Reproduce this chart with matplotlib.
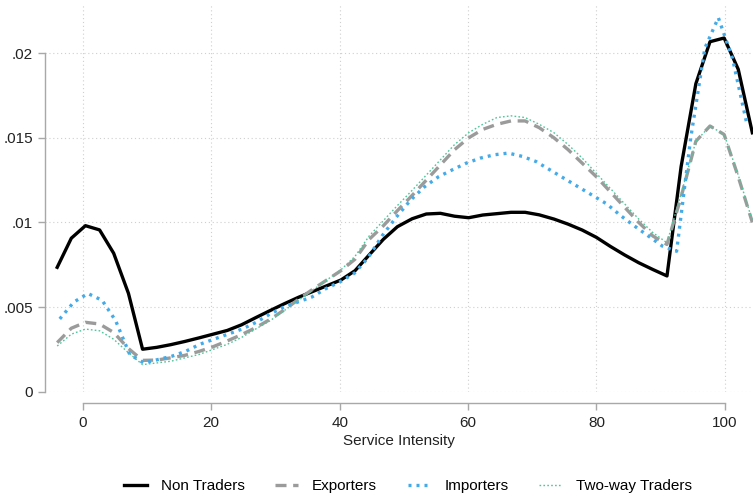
import matplotlib
matplotlib.use("Agg")
import matplotlib.pyplot as plt

plt.rcParams['font.family'] = ['Liberation Sans', 'DejaVu Sans']

# kernel density evaluation points (50 points per group)
x_grid = [-4.0, -1.8, 0.4, 2.6, 4.8, 7.1, 9.3, 11.5, 13.7, 15.9,
          18.1, 20.3, 22.5, 24.7, 26.9, 29.2, 31.4, 33.6, 35.8, 38.0,
          40.2, 42.4, 44.6, 46.8, 49.0, 51.3, 53.5, 55.7, 57.9, 60.1,
          62.3, 64.5, 66.7, 68.9, 71.1, 73.4, 75.6, 77.8, 80.0, 82.2,
          84.4, 86.6, 88.8, 91.0, 93.2, 95.5, 97.7, 99.9, 102.1, 104.3]

x_imp = [-3.6, -1.4, 0.8, 3.0, 5.1, 7.3, 9.5, 11.7, 13.9, 16.1,
         18.2, 20.4, 22.6, 24.8, 27.0, 29.2, 31.3, 33.5, 35.7, 37.9,
         40.1, 42.3, 44.4, 46.6, 48.8, 51.0, 53.2, 55.4, 57.5, 59.7,
         61.9, 64.1, 66.3, 68.5, 70.6, 72.8, 75.0, 77.2, 79.4, 81.6,
         83.8, 85.9, 88.1, 90.3, 92.5, 94.7, 96.9, 99.0, 101.2, 103.4]

non_traders = [0.00735, 0.00907, 0.00981, 0.00956, 0.00818, 0.00581, 0.00251, 0.00262, 0.00278, 0.00297,
               0.00318, 0.00340, 0.00362, 0.00395, 0.00437, 0.00480, 0.00520, 0.00558, 0.00592, 0.00626,
               0.00660, 0.00715, 0.00808, 0.00900, 0.00975, 0.01022, 0.01050, 0.01054, 0.01037, 0.01028,
               0.01044, 0.01052, 0.01060, 0.01060, 0.01045, 0.01020, 0.00990, 0.00955, 0.00912, 0.00858,
               0.00808, 0.00762, 0.00722, 0.00684, 0.01330, 0.01820, 0.02068, 0.02090, 0.01905, 0.01530]

exporters = [0.00290, 0.00375, 0.00410, 0.00400, 0.00350, 0.00255, 0.00185, 0.00187, 0.00200, 0.00215,
             0.00238, 0.00266, 0.00300, 0.00337, 0.00378, 0.00428, 0.00484, 0.00546, 0.00605, 0.00660,
             0.00715, 0.00783, 0.00900, 0.00980, 0.01070, 0.01160, 0.01250, 0.01340, 0.01430, 0.01500,
             0.01550, 0.01580, 0.01600, 0.01600, 0.01560, 0.01500, 0.01430, 0.01350, 0.01270, 0.01180,
             0.01090, 0.01000, 0.00920, 0.00870, 0.01150, 0.01480, 0.01570, 0.01520, 0.01270, 0.01000]

importers = [0.00430, 0.00530, 0.00580, 0.00540, 0.00420, 0.00220, 0.00170, 0.00190, 0.00210, 0.00240,
             0.00280, 0.00310, 0.00340, 0.00370, 0.00410, 0.00460, 0.00500, 0.00530, 0.00560, 0.00610,
             0.00650, 0.00700, 0.00790, 0.00920, 0.01030, 0.01130, 0.01210, 0.01270, 0.01310, 0.01350,
             0.01380, 0.01400, 0.01410, 0.01390, 0.01360, 0.01310, 0.01260, 0.01210, 0.01160, 0.01110,
             0.01040, 0.00980, 0.00920, 0.00860, 0.00830, 0.01500, 0.02030, 0.02210, 0.01970, 0.01590]

two_way = [0.00270, 0.00340, 0.00370, 0.00360, 0.00310, 0.00230, 0.00160, 0.00170, 0.00180, 0.00200,
           0.00220, 0.00250, 0.00280, 0.00320, 0.00370, 0.00420, 0.00480, 0.00540, 0.00600, 0.00660,
           0.00720, 0.00800, 0.00920, 0.01010, 0.01100, 0.01190, 0.01280, 0.01370, 0.01460, 0.01530,
           0.01580, 0.01620, 0.01630, 0.01620, 0.01580, 0.01530, 0.01460, 0.01380, 0.01290, 0.01200,
           0.01110, 0.01020, 0.00940, 0.00880, 0.01170, 0.01480, 0.01570, 0.01520, 0.01280, 0.01010]

x_ticks = [0, 20, 40, 60, 80, 100]
y_ticks = [0, 0.005, 0.01, 0.015, 0.02]
y_ticklabels = ["0", ".005", ".01", ".015", ".02"]

fig = plt.figure(figsize=(7.53, 4.97), dpi=100)
ax = fig.add_axes([45 / 753, 105.3 / 497, 708 / 753, 386.7 / 497])

ax.plot(x_grid, non_traders, color="black", lw=2.4, label="Non Traders")
ax.plot(x_grid, exporters, color="#9b9b9b", lw=2.4, linestyle=(0, (3.3, 2.0)),
        label="Exporters")
ax.plot(x_imp, importers, color="#45abe8", lw=2.4, linestyle=(0, (0.9, 1.5)),
        label="Importers")
ax.plot(x_grid, two_way, color="#4fc59a", lw=1.0, linestyle=(0, (1.2, 1.6)),
        label="Two-way Traders")

ax.set_xlim(-5.9, 104.4)
ax.set_ylim(0, 0.02285)

ax.set_xticks(x_ticks)
ax.set_yticks(y_ticks)
ax.set_yticklabels(y_ticklabels)

ax.grid(True, color="#cfcfcf", linestyle=(0, (1, 2.5)), lw=0.8)
ax.set_axisbelow(True)

for s in ["top", "right"]:
    ax.spines[s].set_visible(False)
ax.spines["left"].set_bounds(0, 0.02)
ax.spines["bottom"].set_bounds(0, 100)
ax.spines["bottom"].set_position(("outward", 8.2))
for s in ["left", "bottom"]:
    ax.spines[s].set_color("#a8a8a8")
    ax.spines[s].set_linewidth(1.0)

ax.tick_params(axis="both", colors="#a8a8a8", length=5, width=1.0,
               labelsize=11, labelcolor="#222222")
ax.tick_params(axis="y", pad=3.5)
ax.tick_params(axis="x", pad=4)

ax.set_xlabel("Service Intensity", fontsize=11, color="#222222", labelpad=3)

fig.legend(loc="center", bbox_to_anchor=(408 / 753, 0.022), ncol=4,
           frameon=False, fontsize=11, handlelength=1.5, handletextpad=0.9,
           columnspacing=2.0)

fig.savefig("out.png", dpi=100)
